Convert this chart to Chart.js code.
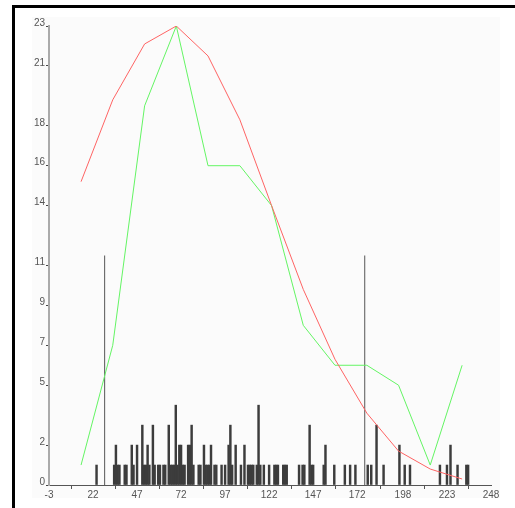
<!DOCTYPE html>
<html>
<head>
<meta charset="utf-8">
<script src="https://cdn.jsdelivr.net/npm/chart.js@4"></script>
<style>
  body { margin: 0; background: #fff; }
  canvas { display: block; }
</style>
</head>
<body>
<canvas id="myChart" width="515" height="508"></canvas>
<script>
// Histograma: valor entero -> cuantas veces aparece
var barX = [24, 34, 35, 36, 37, 40, 41, 44, 45, 47, 50, 51, 52, 53, 54, 56, 57, 59, 60,
  62, 63, 65, 66, 67, 68, 69, 70, 71, 72, 73, 74, 76, 77, 78, 79, 82, 83, 85, 86, 87,
  88, 89, 91, 92, 95, 97, 99, 100, 101, 103, 106, 108, 110, 111, 112, 113, 115, 116,
  117, 119, 122, 125, 126, 127, 130, 131, 132, 139, 141, 142, 145, 146, 147, 153, 154,
  159, 165, 168, 171, 178, 180, 183, 187, 196, 199, 202, 219, 223, 225, 229, 234, 235];
var barY = [1, 1, 2, 1, 1, 1, 1, 2, 1, 2, 3, 1, 1, 2, 1, 3, 1, 1, 1,
  1, 1, 3, 1, 1, 1, 4, 1, 2, 2, 1, 1, 2, 2, 3, 1, 1, 1, 2, 1, 1,
  1, 2, 1, 1, 1, 1, 2, 3, 1, 2, 1, 2, 1, 1, 1, 1, 1, 4,
  1, 1, 1, 1, 1, 1, 1, 1, 1, 1, 1, 1, 3, 1, 1, 1, 2,
  1, 1, 1, 1, 1, 1, 3, 1, 2, 1, 1, 1, 1, 2, 1, 1, 1];

// Centros de las clases y las dos curvas
var binX = [15.2, 33.2, 51.3, 69.3, 87.3, 105.4, 123.4, 141.4, 159.4, 177.5, 195.5, 213.5, 231.6];
var curvaRoja = [15.2, 19.3, 22.1, 23.0, 21.5, 18.3, 14.0, 9.8, 6.3, 3.6, 1.7, 0.8, 0.3];
var curvaVerde = [1, 7, 19, 23, 16, 16, 14, 8, 6, 6, 5, 1, 6];

// Lineas verticales
var lineasX = [28.6, 176.3];
var lineasAlto = 11.5;

// Marcas de los ejes
var ticksX = [-3, 22, 47, 72, 97, 122, 147, 172, 198, 223, 248];
var ticksY = [0, 2, 5, 7, 9, 11, 14, 16, 18, 21, 23];

function puntos(xs, ys) {
  return xs.map(function (x, i) { return { x: x, y: ys[i] }; });
}

var marco = {
  id: "marco",
  beforeDraw: function (chart) {
    var c = chart.ctx;
    c.save();
    c.fillStyle = "#ffffff";
    c.fillRect(0, 0, chart.width, chart.height);
    c.fillStyle = "#fbfbfb";
    c.fillRect(32, 17, 468, 481);
    c.fillStyle = "#000000";
    c.fillRect(12, 5, 3, 503);
    c.fillRect(12, 5, 503, 3);
    c.restore();
  }
};

var lineaComun = {
  type: "line",
  borderWidth: 1,
  pointRadius: 0,
  tension: 0,
  fill: false
};

var ctx = document.getElementById("myChart").getContext("2d");
var myChart = new Chart(ctx, {
  type: "bar",
  data: {
    datasets: [
      Object.assign({}, lineaComun, { data: puntos(binX, curvaRoja), borderColor: "rgb(255,100,100)" }),
      Object.assign({}, lineaComun, { data: puntos(binX, curvaVerde), borderColor: "rgb(100,245,100)" }),
      Object.assign({}, lineaComun, { data: [{ x: lineasX[0], y: 0 }, { x: lineasX[0], y: lineasAlto }], borderColor: "#555" }),
      Object.assign({}, lineaComun, { data: [{ x: lineasX[1], y: 0 }, { x: lineasX[1], y: lineasAlto }], borderColor: "#555" }),
      {
        type: "bar",
        data: puntos(barX, barY),
        backgroundColor: "#3c3c3c",
        barThickness: 1.8
      }
    ]
  },
  options: {
    responsive: false,
    animation: false,
    events: [],
    layout: { padding: { left: 19, right: 24, top: 26, bottom: 3 } },
    plugins: { legend: { display: false }, tooltip: { enabled: false } },
    scales: {
      x: {
        type: "linear",
        offset: false,
        min: -3,
        max: 248,
        afterBuildTicks: function (scale) {
          scale.ticks = ticksX.map(function (v) { return { value: v }; });
        },
        afterFit: function (scale) { scale.height = 20; },
        border: { color: "#555", width: 1 },
        grid: { drawOnChartArea: false, tickLength: 4, color: "#555" },
        ticks: {
          padding: 0,
          maxRotation: 0,
          autoSkip: false,
          color: "#555",
          font: { family: "'Liberation Sans', Arial, sans-serif", size: 10 },
          callback: function (v) { return String(v); }
        }
      },
      y: {
        type: "linear",
        min: 0,
        max: 23,
        afterBuildTicks: function (scale) {
          scale.ticks = ticksY.map(function (v) { return { value: v }; });
        },
        afterFit: function (scale) { scale.width = 30; },
        border: { color: "#aaa", width: 2 },
        grid: { drawOnChartArea: false, tickLength: 3, color: "#444" },
        ticks: {
          padding: 1,
          labelOffset: -3,
          autoSkip: false,
          color: "#555",
          font: { family: "'Liberation Sans', Arial, sans-serif", size: 10 },
          callback: function (v) { return String(v); }
        }
      }
    }
  },
  plugins: [marco]
});
</script>
</body>
</html>
